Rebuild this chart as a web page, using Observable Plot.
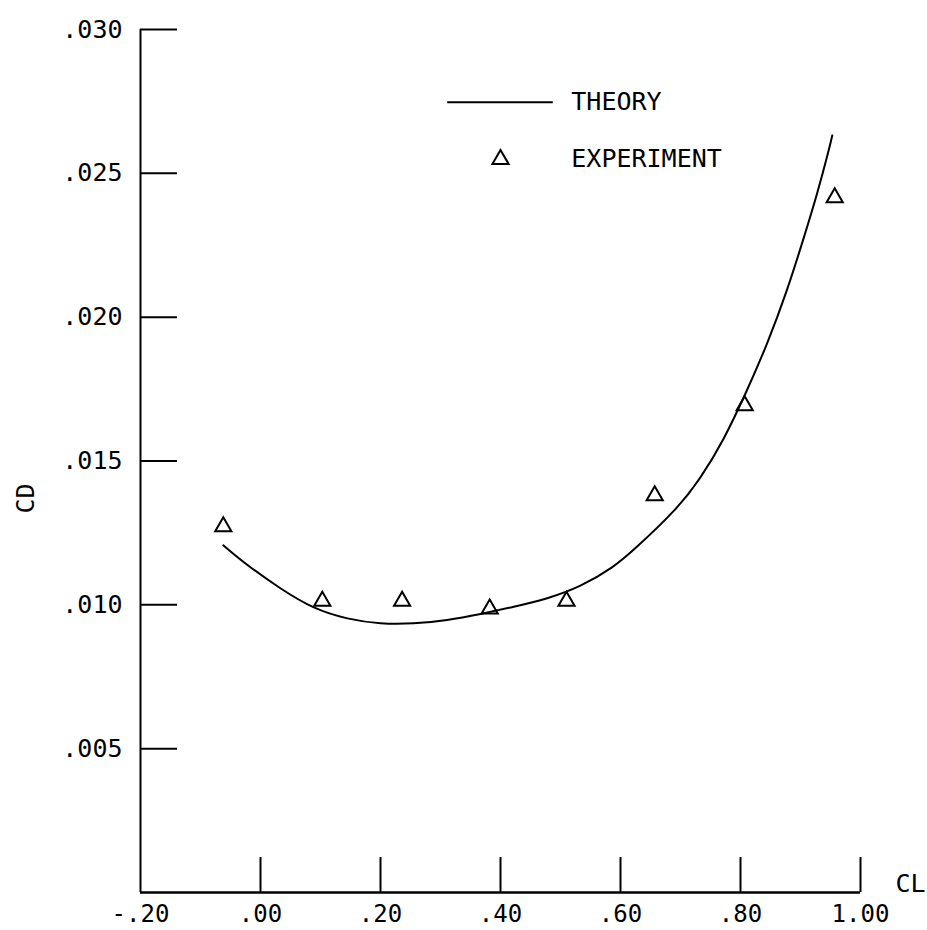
<!DOCTYPE html>
<html>
<head>
<meta charset="utf-8">
<script src="https://cdn.jsdelivr.net/npm/d3@7"></script>
<script src="https://cdn.jsdelivr.net/npm/@observablehq/plot@0.6"></script>
<style>
  html, body { margin: 0; padding: 0; background: #fff; }
  #chart svg { display: block; }
</style>
</head>
<body>
<div id="chart"></div>
<script>
// ---- data ----
const theoryCL = [-0.062, -0.022, 0.033, 0.089, 0.145, 0.200, 0.255, 0.311, 0.367, 0.422, 0.478, 0.533, 0.589, 0.622, 0.695, 0.733, 0.772, 0.811, 0.845, 0.878, 0.906, 0.928, 0.947, 0.953];
const theoryCD = [0.01207, 0.01137, 0.01056, 0.00985, 0.00950, 0.00933, 0.00934, 0.00946, 0.00968, 0.00993, 0.01021, 0.01062, 0.01131, 0.01190, 0.01334, 0.01438, 0.01572, 0.01745, 0.01908, 0.02093, 0.02279, 0.02429, 0.02579, 0.02632];
const expCL = [-0.062, 0.103, 0.236, 0.382, 0.510, 0.657, 0.807, 0.957];
const expCD = [0.01272, 0.01013, 0.01013, 0.00986, 0.01013, 0.01380, 0.01693, 0.02416];

const xTicks = [-0.20, 0.00, 0.20, 0.40, 0.60, 0.80, 1.00];
const xTickLabels = ["-.20", ".00", ".20", ".40", ".60", ".80", "1.00"];
const yTicks = [0.005, 0.010, 0.015, 0.020, 0.025, 0.030];
const yTickLabels = [".005", ".010", ".015", ".020", ".025", ".030"];

const xLabel = "CL";
const yLabel = "CD";
const legendNames = ["THEORY", "EXPERIMENT"];

// ---- build ----
const xDomain = [-0.2, 1.0];
const yDomain = [0, 0.030];
const theory = theoryCL.map((x, i) => ({x, y: theoryCD[i]}));
const experiment = expCL.map((x, i) => ({x, y: expCD[i]}));

const font = "'DejaVu Sans Mono', monospace";
const fs = 25;

// tick lengths (in data units of the other axis) for inward ticks
const xTickLen = (yDomain[1] - yDomain[0]) * 35 / 863;
const yTickLen = (xDomain[1] - xDomain[0]) * 37 / 720;

const legendX1 = 0.312, legendX2 = 0.488, legendLineY = 0.02747;
const legendSymX = 0.400, legendSymY = 0.02549;
const legendTextX = 0.518;

const plot = Plot.plot({
  width: 927,
  height: 930,
  marginLeft: 140,
  marginRight: 67,
  marginTop: 29,
  marginBottom: 38,
  x: {domain: xDomain, axis: null},
  y: {domain: yDomain, axis: null},
  style: {fontFamily: font, background: "#fff", color: "#000"},
  marks: [
    // axis lines
    Plot.ruleX([xDomain[0]], {y1: yDomain[0], y2: yDomain[1], stroke: "#000", strokeWidth: 2}),
    Plot.ruleY([yDomain[0]], {x1: xDomain[0], x2: xDomain[1], stroke: "#000", strokeWidth: 2.5}),
    // inward ticks
    Plot.ruleY(yTicks, {x1: xDomain[0], x2: xDomain[0] + yTickLen, stroke: "#000", strokeWidth: 2}),
    Plot.ruleX(xTicks.slice(1), {y1: yDomain[0], y2: yDomain[0] + xTickLen, stroke: "#000", strokeWidth: 2}),
    // tick labels
    Plot.text(yTicks, {x: xDomain[0], y: d => d, text: (d, i) => yTickLabels[i], dx: -18, textAnchor: "end", lineAnchor: "middle", fontSize: fs, fill: "#000"}),
    Plot.text(xTicks, {x: d => d, y: yDomain[0], text: (d, i) => xTickLabels[i], dy: 22, textAnchor: "middle", lineAnchor: "middle", fontSize: 24, fill: "#000"}),
    // axis titles
    Plot.text([xLabel], {x: xDomain[1], y: yDomain[0], text: d => d, dx: 35, dy: -9, textAnchor: "start", lineAnchor: "middle", fontSize: fs, fill: "#000"}),
    Plot.text([yLabel], {x: xDomain[0], y: 0.0137, text: d => d, dx: -115, rotate: -90, textAnchor: "middle", lineAnchor: "middle", fontSize: fs, fill: "#000"}),
    // theory curve
    Plot.line(theory, {x: "x", y: "y", curve: "basis", stroke: "#000", strokeWidth: 2}),
    // experiment
    Plot.dot(experiment, {x: "x", y: "y", symbol: "triangle", r: 6, stroke: "#000", strokeWidth: 2, fill: "none"}),
    // legend
    Plot.ruleY([legendLineY], {x1: legendX1, x2: legendX2, stroke: "#000", strokeWidth: 2}),
    Plot.dot([0], {x: legendSymX, y: legendSymY, symbol: "triangle", r: 6, stroke: "#000", strokeWidth: 2, fill: "none"}),
    Plot.text([legendNames[0]], {x: legendTextX, y: legendLineY, text: d => d, textAnchor: "start", lineAnchor: "middle", fontSize: fs, fill: "#000"}),
    Plot.text([legendNames[1]], {x: legendTextX, y: legendSymY, text: d => d, textAnchor: "start", lineAnchor: "middle", fontSize: fs, fill: "#000"})
  ]
});
document.getElementById("chart").appendChild(plot);
</script>
</body>
</html>
